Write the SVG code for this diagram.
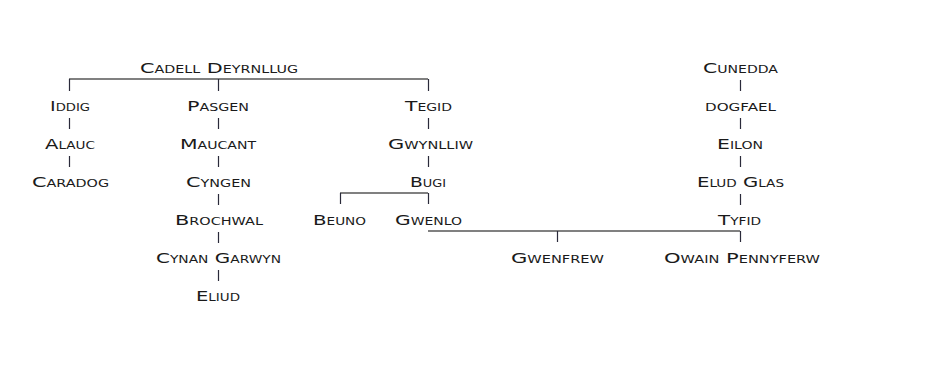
<svg xmlns="http://www.w3.org/2000/svg" width="929" height="377" viewBox="0 0 929 377">
<style>
text{font-family:"DejaVu Sans","Liberation Sans",sans-serif;font-size:14.5px;font-variant:small-caps;fill:#1a1a1a;text-anchor:middle}
.h{stroke:#808080;stroke-width:2;fill:none}
.t{stroke:#2a2a3a;stroke-width:1.2;fill:none}
</style>
<rect width="929" height="377" fill="#fff"/>
<g id="connectors">
<path class="h" d="M69 79H428M340 193H428M428 231H740"/>
<path class="t" d="M69.5 79V91M218.5 79V91M428.5 79V91
M69.5 118V129M69.5 156V167
M218.5 118V129M218.5 156V167M218.5 194V205M218.5 232V243M218.5 270V281
M428.5 118V129M428.5 156V167
M340.5 193V204M428.5 193V204
M740.5 80V91M740.5 118V129M740.5 156V167M740.5 194V205
M557.5 231V242M740.5 231V242"/>
</g>
<g id="cadell"><text x="219" y="72.5" textLength="158" lengthAdjust="spacingAndGlyphs">Cadell Deyrnllug</text></g>
<g id="iddig"><text x="70" y="110.5" textLength="40" lengthAdjust="spacingAndGlyphs">Iddig</text></g>
<g id="alauc"><text x="70" y="148.5" textLength="50" lengthAdjust="spacingAndGlyphs">Alauc</text></g>
<g id="caradog"><text x="70.5" y="186.5" textLength="77" lengthAdjust="spacingAndGlyphs">Caradog</text></g>
<g id="pasgen"><text x="218" y="110.5" textLength="62" lengthAdjust="spacingAndGlyphs">Pasgen</text></g>
<g id="maucant"><text x="218" y="148.5" textLength="76" lengthAdjust="spacingAndGlyphs">Maucant</text></g>
<g id="cyngen"><text x="218.5" y="186.5" textLength="65" lengthAdjust="spacingAndGlyphs">Cyngen</text></g>
<g id="brochwal"><text x="219" y="224.5" textLength="88" lengthAdjust="spacingAndGlyphs">Brochwal</text></g>
<g id="cynan"><text x="218.5" y="262.5" textLength="125" lengthAdjust="spacingAndGlyphs">Cynan Garwyn</text></g>
<g id="eliud"><text x="218" y="300.5" textLength="44" lengthAdjust="spacingAndGlyphs">Eliud</text></g>
<g id="tegid"><text x="428.5" y="110.5" textLength="47" lengthAdjust="spacingAndGlyphs">Tegid</text></g>
<g id="gwynlliw"><text x="430.5" y="148.5" textLength="85" lengthAdjust="spacingAndGlyphs">Gwynlliw</text></g>
<g id="bugi"><text x="428" y="186.5" textLength="36" lengthAdjust="spacingAndGlyphs">Bugi</text></g>
<g id="beuno"><text x="339.5" y="224.5" textLength="53" lengthAdjust="spacingAndGlyphs">Beuno</text></g>
<g id="gwenlo"><text x="428.5" y="224.5" textLength="67" lengthAdjust="spacingAndGlyphs">Gwenlo</text></g>
<g id="gwenfrew"><text x="557.5" y="262.5" textLength="93" lengthAdjust="spacingAndGlyphs">Gwenfrew</text></g>
<g id="owain"><text x="742" y="262.5" textLength="156" lengthAdjust="spacingAndGlyphs">Owain Pennyferw</text></g>
<g id="cunedda"><text x="740.5" y="72.5" textLength="75" lengthAdjust="spacingAndGlyphs">Cunedda</text></g>
<g id="dogfael"><text x="740.5" y="110.5" textLength="71" lengthAdjust="spacingAndGlyphs">dogfael</text></g>
<g id="eilon"><text x="740" y="148.5" textLength="46" lengthAdjust="spacingAndGlyphs">Eilon</text></g>
<g id="eludglas"><text x="740.5" y="186.5" textLength="87" lengthAdjust="spacingAndGlyphs">Elud Glas</text></g>
<g id="tyfid"><text x="739.5" y="224.5" textLength="43" lengthAdjust="spacingAndGlyphs">Tyfid</text></g>
</svg>
